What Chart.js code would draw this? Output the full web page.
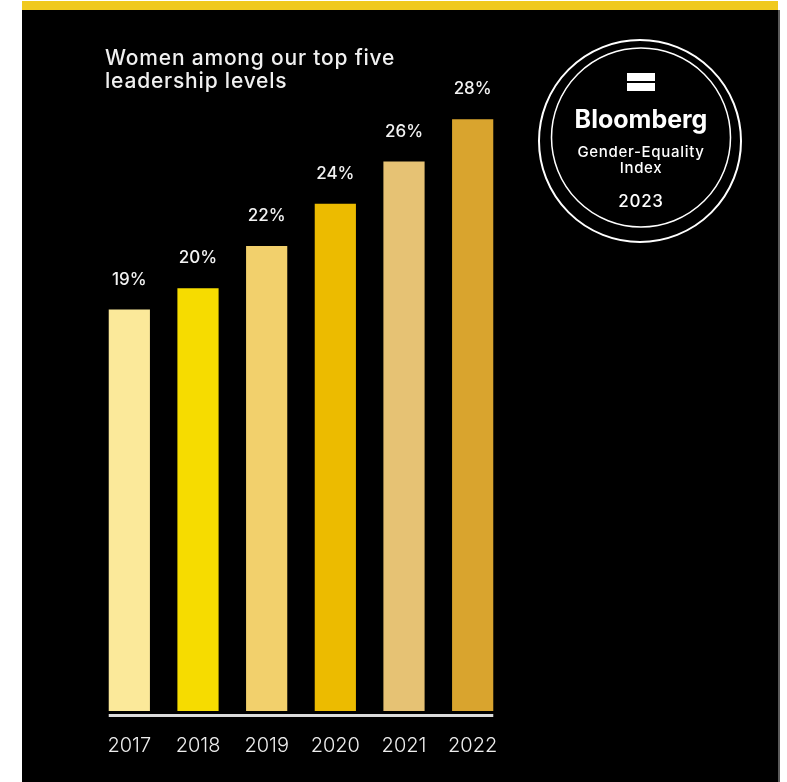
<!DOCTYPE html>
<html>
<head>
<meta charset="utf-8">
<script src="https://cdn.jsdelivr.net/npm/chart.js@4.4.1/dist/chart.umd.min.js"></script>
<style>
  html, body { margin: 0; padding: 0; background: #fff; width: 787px; height: 782px; overflow: hidden; }
  #stripe { position: absolute; left: 22px; top: 1px; width: 756px; height: 9px; background: #f0c91e; }
  #panel { position: absolute; left: 22px; top: 10px; width: 756px; height: 772px; background: #000; }
  #edge { position: absolute; left: 778px; top: 10px; width: 2px; height: 772px; background: #5a5a5a; }
  #chart { position: absolute; left: 0; top: 0; }
</style>
</head>
<body>
<div id="stripe"></div>
<div id="panel"><canvas id="chart" width="756" height="772"></canvas></div>
<div id="edge"></div>
<script>
// Share of women in the top five leadership levels, by year
const years = ['2017', '2018', '2019', '2020', '2021', '2022'];
const womenShare = [19, 20, 22, 24, 26, 28];
const barColors = ['#fbe99a', '#f6dc00', '#f2d06c', '#ecbb00', '#e6c274', '#d9a42e'];
const titleLines = ['Women among our top five', 'leadership levels'];
const badgeLines = ['Bloomberg', 'Gender-Equality', 'Index', '2023'];

const FONT = 'Inter, "Noto Sans", sans-serif';

// Baseline rule under the bars and percentage labels above them
const barDecor = {
  id: 'barDecor',
  afterDatasetsDraw(chart) {
    const ctx = chart.ctx;
    const bars = chart.getDatasetMeta(0).data;
    const first = bars[0], last = bars[bars.length - 1];
    const yZero = chart.scales.y.getPixelForValue(0);
    ctx.save();
    ctx.strokeStyle = '#dcdcdc';
    ctx.lineWidth = 3;
    ctx.beginPath();
    ctx.moveTo(first.x - first.width / 2, yZero + 4.5);
    ctx.lineTo(last.x + last.width / 2, yZero + 4.5);
    ctx.stroke();

    ctx.fillStyle = '#f2f2f2';
    ctx.font = '500 17px ' + FONT;
    ctx.textAlign = 'center';
    ctx.textBaseline = 'middle';
    bars.forEach((bar, i) => {
      ctx.fillText(womenShare[i] + '%', bar.x, bar.y - 30);
    });
    ctx.restore();
  }
};

// Heading and the index badge
const panelDecor = {
  id: 'panelDecor',
  afterDraw(chart) {
    const ctx = chart.ctx;
    ctx.save();
    ctx.fillStyle = '#f0f0f0';
    ctx.font = '500 21px ' + FONT;
    ctx.letterSpacing = '0.8px';
    ctx.textAlign = 'left';
    ctx.textBaseline = 'alphabetic';
    ctx.fillText(titleLines[0], 83, 55);
    ctx.fillText(titleLines[1], 83, 78);
    ctx.letterSpacing = '0px';

    ctx.strokeStyle = '#ffffff';
    ctx.lineWidth = 2;
    ctx.beginPath();
    ctx.arc(618, 131, 101, 0, Math.PI * 2);
    ctx.stroke();
    ctx.lineWidth = 1.5;
    ctx.beginPath();
    ctx.arc(619, 127.5, 89.5, 0, Math.PI * 2);
    ctx.stroke();

    ctx.fillStyle = '#ffffff';
    ctx.fillRect(605, 63, 28, 8);
    ctx.fillRect(605, 73, 28, 8);

    ctx.textAlign = 'center';
    ctx.textBaseline = 'middle';
    ctx.font = '700 25px ' + FONT;
    ctx.fillText(badgeLines[0], 619, 110);
    ctx.font = '500 15px ' + FONT;
    ctx.letterSpacing = '0.7px';
    ctx.fillText(badgeLines[1], 619, 142);
    ctx.fillText(badgeLines[2], 619, 158);
    ctx.font = '500 17px ' + FONT;
    ctx.fillText(badgeLines[3], 619, 192);
    ctx.restore();
  }
};

new Chart(document.getElementById('chart'), {
  type: 'bar',
  data: {
    labels: years,
    datasets: [{
      data: womenShare,
      backgroundColor: barColors,
      borderWidth: 0,
      categoryPercentage: 1,
      barPercentage: 0.6
    }]
  },
  options: {
    responsive: false,
    animation: false,
    devicePixelRatio: 1,
    layout: { padding: { left: 73, right: 271, top: 67, bottom: 1 } },
    plugins: { legend: { display: false }, tooltip: { enabled: false } },
    scales: {
      x: {
        grid: { display: false, drawTicks: false },
        border: { display: false },
        ticks: { color: '#eeeeee', padding: 23, font: { family: FONT, size: 20, weight: 300 } }
      },
      y: { display: false, min: 0, max: 30 }
    }
  },
  plugins: [barDecor, panelDecor]
});
</script>
</body>
</html>
